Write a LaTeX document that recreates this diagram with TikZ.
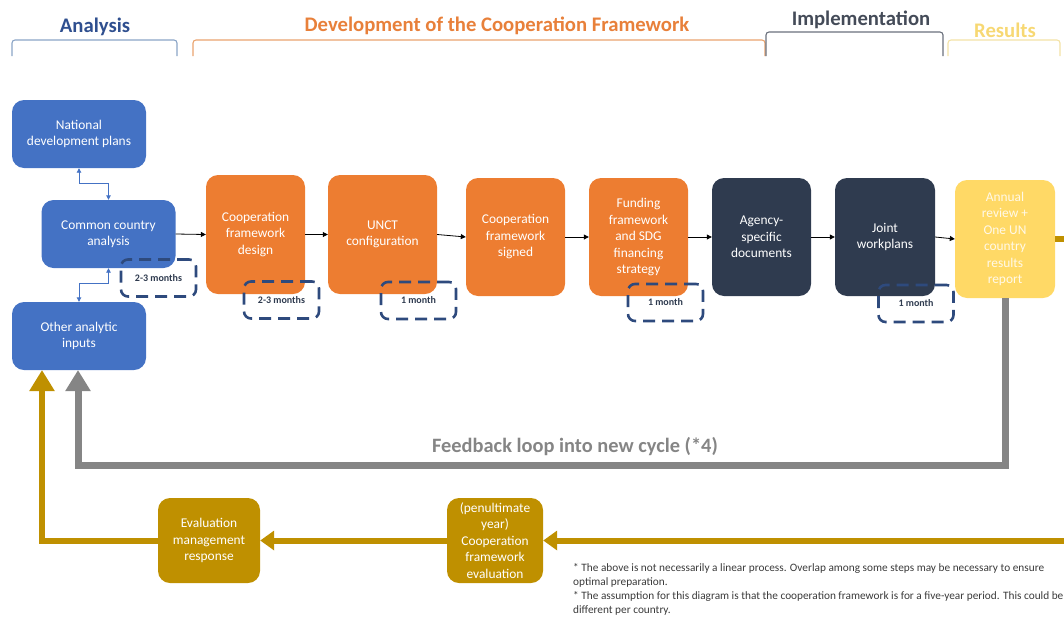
\documentclass[tikz,border=0pt]{standalone}
\usepackage{fontspec}
\setmainfont{Carlito}
\usetikzlibrary{arrows.meta}
\definecolor{cblue}{HTML}{4472C4}
\definecolor{corange}{HTML}{ED7D31}
\definecolor{cdark}{HTML}{2F3B4F}
\definecolor{cyellow}{HTML}{FFD966}
\definecolor{cgold}{HTML}{BF9000}
\definecolor{cgray}{HTML}{858585}
\definecolor{cdash}{HTML}{2E4A7D}
\definecolor{hblue}{HTML}{2F4F8F}
\definecolor{horange}{HTML}{E8803A}
\definecolor{hdark}{HTML}{444B58}
\definecolor{hyellow}{HTML}{F7D873}
\definecolor{bblue}{HTML}{8AA4C6}
\definecolor{borange}{HTML}{E9A36E}
\definecolor{bdark}{HTML}{6A707C}
\definecolor{byellow}{HTML}{F3E2A6}
\definecolor{ctext}{HTML}{3A3A3A}
\tikzset{
  box/.style={rounded corners=12pt, text=white, align=center, inner sep=2pt,
    font=\fontsize{13.4}{16.5}\selectfont},
  bluebox/.style={box, fill=cblue, minimum width=134pt, minimum height=68pt},
  orangebox/.style={box, fill=corange, minimum width=99pt, minimum height=118pt},
  darkbox/.style={box, fill=cdark, minimum width=100pt, minimum height=118pt},
  yellowbox/.style={box, fill=cyellow, minimum width=100pt, minimum height=118pt, text=white!85!cyellow},
  goldbox/.style={box, fill=cgold, minimum width=100pt, minimum height=85pt},
  timebox/.style={draw=cdash, line width=2.6pt, dash pattern=on 12pt off 7pt, rounded corners=7pt,
    minimum width=75pt, minimum height=37pt, text=cdark, font=\fontsize{10}{12}\selectfont\bfseries},
  thinarrow/.style={draw=black, line width=0.8pt, -{Triangle[length=5pt,width=5pt]}},
  bluelink/.style={draw=cblue, line width=0.9pt, {Triangle[length=4.5pt,width=4.5pt]}-{Triangle[length=4.5pt,width=4.5pt]}},
  grayloop/.style={draw=cgray, line width=7pt, -{Triangle[length=21pt,width=24pt]}},
  goldloop/.style={draw=cgold, line width=6pt, -{Triangle[length=21pt,width=24pt]}},
  goldstep/.style={draw=cgold, line width=6pt, -{Triangle[length=14pt,width=19pt]}},
  header/.style={font=\fontsize{20.7}{24}\selectfont\bfseries},
  bracket/.style={line width=1.1pt, rounded corners=3pt},
}
\begin{document}
\begin{tikzpicture}[x=1pt,y=-1pt]
\useasboundingbox (0,0) rectangle (1064,616);
\clip (0,0) rectangle (1064,616);

% headers
\node[header, text=hblue] (hA) at (95,27) {Analysis};
\node[header, text=horange] (hD) at (497,26) {Development of the Cooperation Framework};
\node[header, text=hdark] (hI) at (861,20) {Implementation};
\node[header, text=hyellow] (hR) at (1005,30) {Results};
\draw[bracket, draw=bblue] (12,56) -- (12,40) -- (177,40) -- (177,56);
\draw[bracket, draw=borange] (193,56) -- (193,40) -- (765,40) -- (765,56);
\draw[bracket, draw=bdark] (766,56) -- (766,32) -- (943,32) -- (943,56);
\draw[bracket, draw=byellow] (948,56) -- (948,40) -- (1060,40) -- (1060,56);

% nodes
\node[bluebox] (NDP) at (79,134) {National\\development plans};
\node[bluebox] (CCA) at (108.5,234) {Common country\\analysis};
\node[bluebox] (OAI) at (79,336) {Other analytic\\inputs};
\node[orangebox, minimum height=119pt] (CFD) at (255.5,234.5) {Cooperation\\framework\\design};
\node[orangebox, minimum width=109pt, minimum height=119pt] (UNCT) at (382.5,234.5) {UNCT\\configuration};
\node[orangebox] (CFS) at (515.5,237) {Cooperation\\framework\\signed};
\node[orangebox] (FF) at (638.5,237) {Funding\\framework\\and SDG\\financing\\strategy};
\node[darkbox, minimum width=99pt] (ASD) at (761.5,237) {Agency-\\specific\\documents};
\node[darkbox] (JW) at (885,237) {Joint\\workplans};
\node[yellowbox] (AR) at (1005,239) {Annual\\review +\\One UN\\country\\results\\report};
\node[goldbox, minimum width=96pt] (CFE) at (495,540.5) {(penultimate\\year)\\Cooperation\\framework\\evaluation};
\node[goldbox, minimum width=102pt] (EMR) at (209,540.5) {Evaluation\\management\\response};

% coordinates
\coordinate (rc) at (1090,239);
\coordinate (gcorner) at (78,465);
\coordinate (gtip) at (78,370);
\coordinate (ytip) at (42,370);

% flow arrows
\draw[thinarrow] (CCA.east) -- (CFD.west);
\draw[thinarrow] (CFD.east) -- (UNCT.west);
\draw[thinarrow] (UNCT.east) -- (CFS.west);
\draw[thinarrow] (CFS.east) -- (FF.west);
\draw[thinarrow] (FF.east) -- (ASD.west);
\draw[thinarrow] (ASD.east) -- (JW.west);
\draw[thinarrow] (JW.east) -- (AR.west);

\draw[bluelink] (NDP.south) -- ++(0,15) -| (CCA.north);
\draw[bluelink] (CCA.south) -- ++(0,15) -| (OAI.north);

% feedback loops
\draw[grayloop] (AR.south) |- (gcorner) -- (gtip);
\node[text=cgray, font=\fontsize{20.4}{24}\selectfont\bfseries] (fb) at (575,447) {Feedback loop into new cycle (*4)};
\draw[goldstep] (AR.east) -- (rc) |- (CFE.east);
\draw[goldstep] (CFE.west) -- (EMR.east);
\draw[goldloop] (EMR.west) -| (ytip);

% time boxes
\node[timebox] (t1) at (158.5,278) {2-3 months};
\node[timebox] (t2) at (281.5,300) {2-3 months};
\node[timebox] (t3) at (418.5,300.5) {1 month};
\node[timebox] (t4) at (665.5,302.5) {1 month};
\node[timebox] (t5) at (916,303.5) {1 month};

% footnote
\node[anchor=north west, align=left, inner sep=0pt, text=ctext, font=\fontsize{11.3}{13.9}\selectfont] (note) at (573,563.5)
{* The above is not necessarily a linear process. Overlap among some steps may be necessary to ensure\\
optimal preparation.\\
* The assumption for this diagram is that the cooperation framework is for a five-year period. This could be\\
different per country.};
\end{tikzpicture}
\end{document}
